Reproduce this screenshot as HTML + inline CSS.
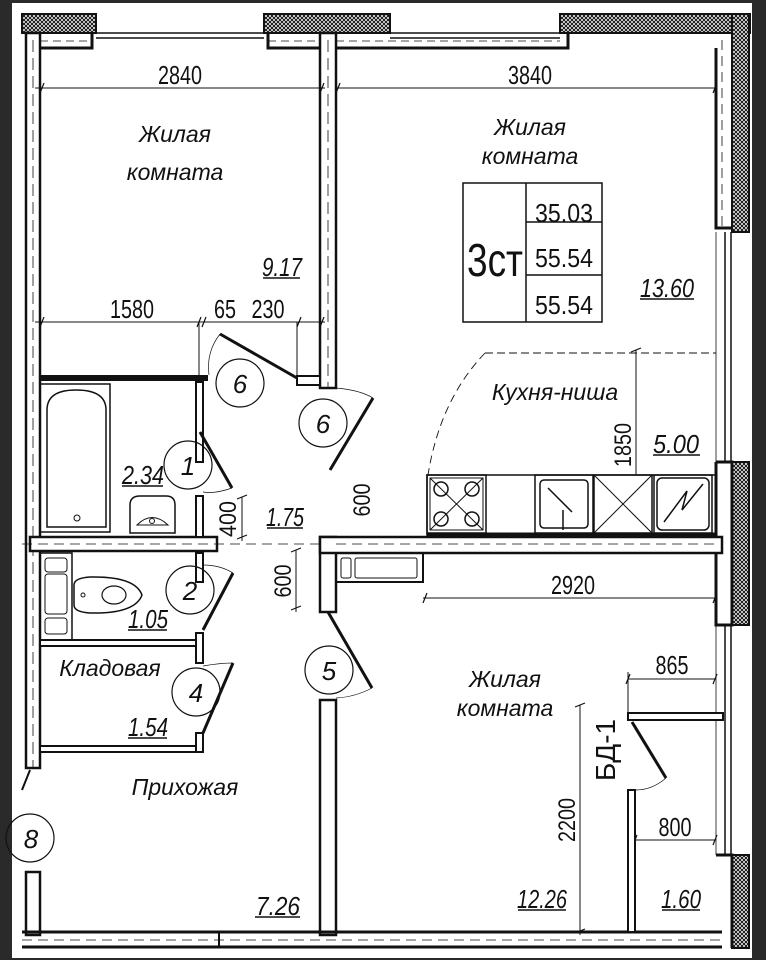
<!DOCTYPE html>
<html><head><meta charset="utf-8"><style>
html,body{margin:0;padding:0;background:#fff}
svg{display:block}
text{font-family:"Liberation Sans Narrow","Liberation Sans",sans-serif;fill:#111}
.it{font-style:italic}
</style></head><body>
<svg width="766" height="960" viewBox="0 0 766 960" xmlns="http://www.w3.org/2000/svg">
<defs>
<pattern id="h" width="4" height="4" patternUnits="userSpaceOnUse">
<rect width="4" height="4" fill="#fff"/><path d="M0 0L4 4M4 0L0 4" stroke="#111" stroke-width="1"/>
</pattern>
</defs>
<rect x="0" y="0" width="766" height="960" fill="#2a2a2a"/>
<rect x="12" y="3" width="740" height="955" fill="#fff"/>
<g stroke="#111" fill="none">
<rect x="22" y="14" width="74" height="19" fill="url(#h)" stroke-width="2"/>
<rect x="264" y="14" width="126" height="19" fill="url(#h)" stroke-width="2"/>
<rect x="560" y="14" width="190" height="19" fill="url(#h)" stroke-width="2"/>
<rect x="732" y="14" width="17" height="218" fill="url(#h)" stroke-width="2"/>
<rect x="732" y="462" width="17" height="163" fill="url(#h)" stroke-width="2"/>
<rect x="732" y="855" width="17" height="93" fill="url(#h)" stroke-width="2"/>
<path d="M96 33H264M96 38H264M390 33H560M390 38H560" stroke-width="1.5"/>
<path d="M40 48H92V33M268 33V48H320M336 48H568V33" stroke-width="3"/>
<path d="M40 41H92M268 41H320M336 41H560" stroke-width="0.8" stroke-dasharray="8 5"/>
<path d="M716 48V228H732M716 462H732V625H716V462M716 855H732V948M716 553V625" stroke-width="3"/>
<path d="M722 40V228" stroke-width="0.8" stroke-dasharray="10 6"/>
<path d="M725 232V462M731 232V462M725 625V855M731 625V855" stroke-width="1.5"/>
<path d="M716 232V462M716 625V855" stroke-width="0.8"/>
<rect x="26" y="33" width="14" height="735" fill="#fff" stroke-width="2.5"/>
<path d="M33 40V768" stroke-width="0.8" stroke-dasharray="12 6"/>
<rect x="26" y="872" width="14" height="63" fill="#fff" stroke-width="2.5"/>
<rect x="320" y="33" width="16" height="355" fill="#fff" stroke-width="2.5"/>
<path d="M328 40V388" stroke-width="0.8" stroke-dasharray="12 6"/>
<rect x="320" y="537" width="16" height="75" fill="#fff" stroke-width="2.5"/>
<rect x="320" y="700" width="16" height="235" fill="#fff" stroke-width="2.5"/>
<rect x="30" y="537" width="187" height="14" fill="#fff" stroke-width="2.5"/>
<rect x="320" y="537" width="402" height="16" fill="#fff" stroke-width="2.5"/>
<path d="M22 544H320M336 544H716" stroke-width="0.8" stroke-dasharray="10 6"/>
<path d="M22 932H722M22 947H722" stroke-width="3"/>
<path d="M22 940H722" stroke-width="0.8" stroke-dasharray="10 6"/>
<path d="M219 932V948" stroke-width="2"/>
<path d="M35 88H325M336 88H715M35 322H325M423 598H717M628 679H715M635 840H715" stroke-width="1"/>
<path d="M40 93L44 83M320 93L324 83M336 93L340 83M713 93L717 83M40 327L44 317M197 327L201 317M202 327L206 317M297 327L301 317M320 327L324 317M423 603L427 593M713 603L717 593M626 684L630 674M713 684L717 674M633 845L637 835M713 845L717 835" stroke-width="1.2"/>
<path d="M199 322V378M297 322V378M628 672V713M636 350V475M242 497V541M296 550V612M580 705V935" stroke-width="1"/>
<path d="M631 352L641 348M237 499L247 495M237 539L247 535M291 552L301 548M291 610L301 606M575 707L585 703M575 933L585 929" stroke-width="1.2"/>
<path d="M40 378H208" stroke-width="6"/>
<rect x="196" y="382" width="7" height="80" fill="#fff" stroke-width="2"/>
<rect x="40" y="384" width="70" height="148" stroke-width="1.5"/>
<path d="M47 527V410Q47 390 76 390Q106 390 106 410V527Z" stroke-width="1.5"/>
<circle cx="77" cy="518" r="3" stroke-width="1"/>
<path d="M130 533V505Q130 496 140 496H166Q175 496 175 505V533Z" stroke-width="1.5"/>
<path d="M137 525Q152 510 168 525Z" stroke-width="1"/>
<circle cx="152" cy="521" r="2.5" stroke-width="1"/>
<path d="M220 334L297 378" stroke-width="3"/>
<rect x="297" y="376" width="23" height="9" fill="#fff" stroke-width="2"/>
<path d="M220 334Q206 352 209 375" stroke-width="0.7"/>
<circle cx="240" cy="383" r="24" stroke-width="1.2"/>
<circle cx="323" cy="423" r="24" stroke-width="1.2"/>
<path d="M373 398L330 470" stroke-width="3"/>
<path d="M336 388Q360 390 373 398" stroke-width="0.7"/>
<circle cx="188" cy="465" r="24" stroke-width="1.2"/>
<path d="M200 432L232 488" stroke-width="3"/>
<path d="M203 492Q215 494 232 488" stroke-width="0.7"/>
<rect x="196" y="496" width="7" height="41" fill="#fff" stroke-width="2"/>
<rect x="40" y="553" width="32" height="87" stroke-width="1.5"/>
<rect x="45" y="558" width="22" height="14" rx="3" stroke-width="1"/>
<rect x="45" y="574" width="22" height="40" rx="3" stroke-width="1"/>
<rect x="45" y="618" width="22" height="16" rx="3" stroke-width="1"/>
<path d="M74 585Q74 578 90 577Q135 576 142 595Q135 614 90 613Q74 612 74 605Z" stroke-width="1.5"/>
<ellipse cx="114" cy="595" rx="12" ry="9" stroke-width="1.2"/>
<circle cx="83" cy="595" r="2" stroke-width="1"/>
<rect x="196" y="553" width="7" height="29" fill="#fff" stroke-width="2"/>
<circle cx="190" cy="590" r="24" stroke-width="1.2"/>
<path d="M233 573L203 630" stroke-width="3"/>
<path d="M203 565Q220 565 233 573" stroke-width="0.7"/>
<rect x="40" y="640" width="158" height="6" fill="#fff" stroke-width="2"/>
<rect x="196" y="633" width="7" height="30" fill="#fff" stroke-width="2"/>
<circle cx="196" cy="692" r="24" stroke-width="1.2"/>
<path d="M233 663L203 733" stroke-width="3"/>
<path d="M203 666Q220 663 233 663" stroke-width="0.7"/>
<rect x="40" y="746" width="158" height="6" fill="#fff" stroke-width="2"/>
<rect x="196" y="733" width="7" height="19" fill="#fff" stroke-width="2"/>
<circle cx="30" cy="838" r="24" stroke-width="1.2"/>
<path d="M30 770L22 790" stroke-width="2"/>
<circle cx="329" cy="670" r="24" stroke-width="1.2"/>
<path d="M328 612L372 688" stroke-width="3"/>
<path d="M336 698Q355 697 372 688" stroke-width="0.7"/>
<path d="M485 353Q440 400 428 475" stroke-width="0.9" stroke-dasharray="8 5"/>
<path d="M485 353H716" stroke-width="0.9" stroke-dasharray="8 4"/>
<rect x="427" y="475" width="289" height="60" stroke-width="1.5"/>
<path d="M427 535H716" stroke-width="5"/>
<rect x="427" y="475" width="59" height="58" stroke-width="1.5"/>
<rect x="430" y="478" width="53" height="52" stroke-width="1"/>
<path d="M430 478L483 530M483 478L430 530" stroke-width="1"/>
<circle cx="441" cy="489" r="7" stroke-width="1.5"/><circle cx="472" cy="489" r="7" stroke-width="1.5"/>
<circle cx="441" cy="519" r="7" stroke-width="1.5"/><circle cx="472" cy="519" r="7" stroke-width="1.5"/>
<rect x="535" y="475" width="58" height="58" stroke-width="1.5"/>
<rect x="540" y="480" width="48" height="48" rx="4" stroke-width="1.5"/>
<path d="M548 488L572 512M563 510V530" stroke-width="1.5"/>
<rect x="594" y="475" width="58" height="58" stroke-width="1.5"/>
<path d="M594 475L652 533M652 475L594 533" stroke-width="1"/>
<rect x="654" y="475" width="58" height="58" stroke-width="1.5"/>
<rect x="657" y="478" width="52" height="52" rx="5" stroke-width="1.5"/>
<path d="M664 522L687 491L682 510L703 484" stroke-width="1.5"/>
<rect x="336" y="553" width="87" height="29" stroke-width="2"/>
<rect x="341" y="558" width="10" height="20" rx="2" stroke-width="1"/>
<rect x="355" y="558" width="62" height="20" rx="2" stroke-width="1"/>
<rect x="463" y="183" width="139" height="139" stroke-width="1.5"/>
<path d="M526 183V322M526 222H602M526 275H602" stroke-width="1.5"/>
<rect x="628" y="713" width="95" height="7" fill="#fff" stroke-width="2"/>
<path d="M632 722L666 778" stroke-width="3"/>
<path d="M636 790Q652 790 666 778" stroke-width="0.7"/>
<rect x="628" y="790" width="7" height="142" fill="#fff" stroke-width="2"/>
<path d="M263 278H300M122 486H163M267 528H303M128 630H167M128 738H167M255 917H300M640 299H694M653 455H700M518 910H566M662 910H700" stroke-width="1.5"/>
</g>
<g font-size="26" text-anchor="middle">
<text x="180" y="84" textLength="44" lengthAdjust="spacingAndGlyphs">2840</text>
<text x="530" y="84" textLength="44" lengthAdjust="spacingAndGlyphs">3840</text>
<text x="132" y="318" textLength="44" lengthAdjust="spacingAndGlyphs">1580</text>
<text x="225" y="318" textLength="22" lengthAdjust="spacingAndGlyphs">65</text>
<text x="268" y="318" textLength="33" lengthAdjust="spacingAndGlyphs">230</text>
<text x="573" y="594" textLength="44" lengthAdjust="spacingAndGlyphs">2920</text>
<text x="672" y="674" textLength="33" lengthAdjust="spacingAndGlyphs">865</text>
<text x="675" y="836" textLength="33" lengthAdjust="spacingAndGlyphs">800</text>
<text x="564" y="222" textLength="58" lengthAdjust="spacingAndGlyphs">35.03</text>
<text x="564" y="267" textLength="58" lengthAdjust="spacingAndGlyphs">55.54</text>
<text x="564" y="314" textLength="58" lengthAdjust="spacingAndGlyphs">55.54</text>
</g>
<text x="467" y="276" font-size="46" textLength="56" lengthAdjust="spacingAndGlyphs">3ст</text>
<g font-size="24" text-anchor="middle">
<text transform="translate(631,445) rotate(-90)" textLength="44" lengthAdjust="spacingAndGlyphs">1850</text>
<text transform="translate(236,519) rotate(-90)" textLength="36" lengthAdjust="spacingAndGlyphs">400</text>
<text transform="translate(291,581) rotate(-90)" textLength="33" lengthAdjust="spacingAndGlyphs">600</text>
<text transform="translate(370,500) rotate(-90)" textLength="33" lengthAdjust="spacingAndGlyphs">600</text>
<text transform="translate(575,820) rotate(-90)" textLength="44" lengthAdjust="spacingAndGlyphs">2200</text>
<text transform="translate(615,750) rotate(-90)" font-size="28" textLength="62" lengthAdjust="spacingAndGlyphs">БД-1</text>
</g>
<g font-size="23" class="it" text-anchor="middle">
<text x="175" y="142">Жилая</text>
<text x="175" y="180">комната</text>
<text x="530" y="135">Жилая</text>
<text x="530" y="164">комната</text>
<text x="505" y="687">Жилая</text>
<text x="505" y="716">комната</text>
<text x="555" y="400">Кухня-ниша</text>
<text x="110" y="676">Кладовая</text>
<text x="185" y="795">Прихожая</text>
</g>
<g font-size="26" class="it" text-anchor="middle">
<text x="282" y="276" textLength="40" lengthAdjust="spacingAndGlyphs">9.17</text>
<text x="667" y="297" textLength="54" lengthAdjust="spacingAndGlyphs">13.60</text>
<text x="676" y="453" textLength="46" lengthAdjust="spacingAndGlyphs">5.00</text>
<text x="143" y="484" textLength="42" lengthAdjust="spacingAndGlyphs">2.34</text>
<text x="285" y="526" textLength="38" lengthAdjust="spacingAndGlyphs">1.75</text>
<text x="148" y="628" textLength="40" lengthAdjust="spacingAndGlyphs">1.05</text>
<text x="148" y="736" textLength="40" lengthAdjust="spacingAndGlyphs">1.54</text>
<text x="278" y="915" textLength="44" lengthAdjust="spacingAndGlyphs">7.26</text>
<text x="542" y="908" textLength="50" lengthAdjust="spacingAndGlyphs">12.26</text>
<text x="681" y="908" textLength="40" lengthAdjust="spacingAndGlyphs">1.60</text>
</g>
<g font-size="26" text-anchor="middle" class="it">
<text x="240" y="393">6</text>
<text x="323" y="433">6</text>
<text x="188" y="475">1</text>
<text x="190" y="600">2</text>
<text x="196" y="702">4</text>
<text x="329" y="680">5</text>
<text x="31" y="848">8</text>
</g>
</svg>
</body></html>
